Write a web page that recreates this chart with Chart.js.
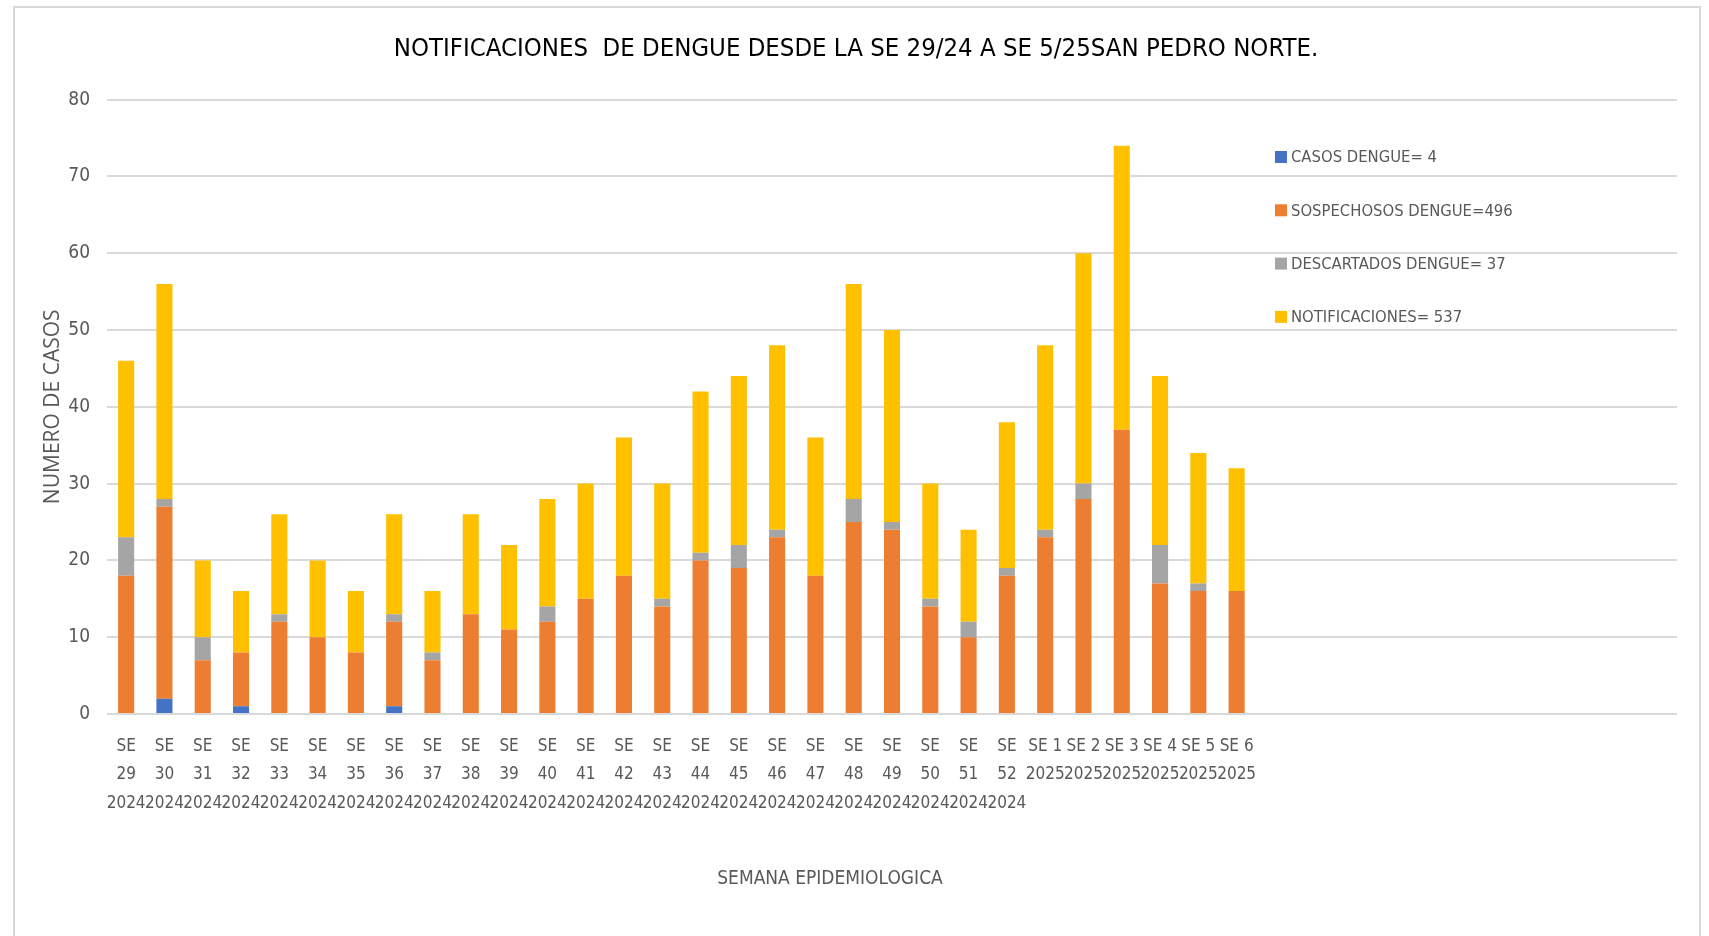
<!DOCTYPE html>
<html>
<head>
<meta charset="utf-8">
<script src="https://cdn.jsdelivr.net/npm/chart.js@4.4.1/dist/chart.umd.min.js"></script>
<style>
  html, body { margin: 0; padding: 0; background: #fff; overflow: hidden; }
  #marco { position: absolute; left: 13px; top: 6px; width: 1684px; height: 1000px; border: 2px solid #d9d9d9; }
  #contenedor { position: absolute; left: 0; top: 0; width: 1709px; height: 936px; }
</style>
</head>
<body>
<div id="marco"></div>
<div id="contenedor"><canvas id="myChart" width="1709" height="936"></canvas></div>
<script>
// semanas epidemiologicas (las ultimas 11 categorias quedan vacias, como en el original)
var semanas = [
  ['SE','29','2024'], ['SE','30','2024'], ['SE','31','2024'], ['SE','32','2024'],
  ['SE','33','2024'], ['SE','34','2024'], ['SE','35','2024'], ['SE','36','2024'],
  ['SE','37','2024'], ['SE','38','2024'], ['SE','39','2024'], ['SE','40','2024'],
  ['SE','41','2024'], ['SE','42','2024'], ['SE','43','2024'], ['SE','44','2024'],
  ['SE','45','2024'], ['SE','46','2024'], ['SE','47','2024'], ['SE','48','2024'],
  ['SE','49','2024'], ['SE','50','2024'], ['SE','51','2024'], ['SE','52','2024'],
  ['SE 1','2025'], ['SE 2','2025'], ['SE 3','2025'], ['SE 4','2025'], ['SE 5','2025'], ['SE 6','2025'],
  '', '', '', '', '', '', '', '', '', '', ''
];

var casosDengue =       [0, 2, 0, 1, 0, 0, 0, 1, 0, 0, 0, 0, 0, 0, 0, 0, 0, 0, 0, 0, 0, 0, 0, 0, 0, 0, 0, 0, 0, 0];
var sospechosos =       [18, 25, 7, 7, 12, 10, 8, 11, 7, 13, 11, 12, 15, 18, 14, 20, 19, 23, 18, 25, 24, 14, 10, 18, 23, 28, 37, 17, 16, 16];
var descartados =       [5, 1, 3, 0, 1, 0, 0, 1, 1, 0, 0, 2, 0, 0, 1, 1, 3, 1, 0, 3, 1, 1, 2, 1, 1, 2, 0, 5, 1, 0];
var notificaciones =    [23, 28, 10, 8, 13, 10, 8, 13, 8, 13, 11, 14, 15, 18, 15, 21, 22, 24, 18, 28, 25, 15, 12, 19, 24, 30, 37, 22, 17, 16];

var ticksY = [0, 10, 20, 30, 40, 50, 60, 70, 80];

var fuenteAngosta = '"Liberation Sans Narrow", "DejaVu Sans Condensed", "Roboto", sans-serif';

// leyenda dentro del area y titulo del eje x
var textosExtra = {
  id: 'textosExtra',
  afterDraw: function(chart)
  {
    var ctx = chart.ctx;
    ctx.save();
    ctx.font = '16.5px ' + fuenteAngosta;
    ctx.textBaseline = 'middle';
    ctx.textAlign = 'left';
    chart.data.datasets.forEach(function(ds, i) {
      var y = 157 + i * 53.3;
      ctx.fillStyle = ds.backgroundColor;
      ctx.fillRect(1275, y - 6, 12, 12);
      ctx.fillStyle = '#595959';
      ctx.fillText(ds.label, 1291, y + 1);
    });
    ctx.textAlign = 'center';
    ctx.font = '19px ' + fuenteAngosta;
    ctx.fillStyle = '#595959';
    ctx.fillText('SEMANA EPIDEMIOLOGICA', 830, 879);
    ctx.restore();
  }
};

var ctx = document.getElementById('myChart').getContext('2d');
var myChart = new Chart(ctx, {
  type: 'bar',
  data: {
    labels: semanas,
    datasets: [
      { label: 'CASOS DENGUE= 4', data: casosDengue, backgroundColor: '#4472C4' },
      { label: 'SOSPECHOSOS DENGUE=496', data: sospechosos, backgroundColor: '#ED7D31' },
      { label: 'DESCARTADOS DENGUE= 37', data: descartados, backgroundColor: '#A5A5A5' },
      { label: 'NOTIFICACIONES= 537', data: notificaciones, backgroundColor: '#FFC000' }
    ]
  },
  plugins: [textosExtra],
  options: {
    responsive: false,
    animation: false,
    layout: { padding: { left: 35, right: 32, top: 0, bottom: 102 } },
    datasets: { bar: { barPercentage: 0.42, categoryPercentage: 1.0, borderWidth: 0 } },
    plugins: {
      legend: { display: false },
      tooltip: { enabled: false },
      title: {
        display: true,
        text: 'NOTIFICACIONES  DE DENGUE DESDE LA SE 29/24 A SE 5/25SAN PEDRO NORTE.',
        color: '#000',
        font: { family: fuenteAngosta, size: 25.5, weight: 'normal' },
        padding: { top: 34, bottom: 35 }
      }
    },
    scales: {
      x: {
        stacked: true,
        grid: { display: false },
        border: { display: false },
        ticks: {
          color: '#595959',
          font: { family: fuenteAngosta, size: 17, lineHeight: 1.65 },
          autoSkip: false,
          maxRotation: 0,
          minRotation: 0,
          padding: 11
        },
        afterFit: function(scale) { scale.height = 120; }
      },
      y: {
        stacked: true,
        min: 0,
        max: 80,
        afterBuildTicks: function(scale) { scale.ticks = ticksY.map(function(v) { return { value: v }; }); },
        grid: { color: '#d9d9d9', lineWidth: 2, drawTicks: false },
        border: { display: false },
        ticks: {
          color: '#595959',
          font: { family: fuenteAngosta, size: 19 },
          padding: 17
        },
        title: {
          display: true,
          text: 'NUMERO DE CASOS',
          color: '#595959',
          font: { family: '"Open Sans", sans-serif', size: 21 },
          padding: { top: 5, bottom: 0 }
        },
        afterFit: function(scale) { scale.width = 72; }
      }
    }
  }
});
</script>
</body>
</html>
